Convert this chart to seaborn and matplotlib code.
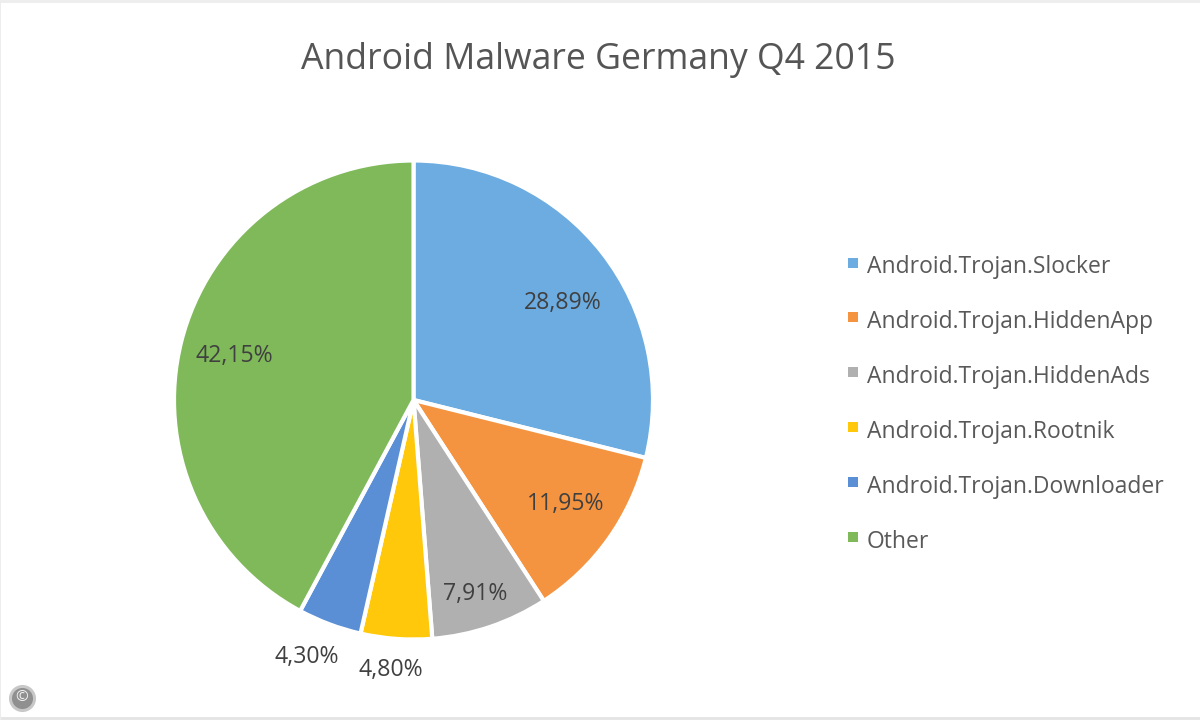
import matplotlib
matplotlib.use("Agg")
import matplotlib.pyplot as plt
import seaborn as sns
from matplotlib.patches import Rectangle

categories = ["Android.Trojan.Slocker", "Android.Trojan.HiddenApp", "Android.Trojan.HiddenAds",
              "Android.Trojan.Rootnik", "Android.Trojan.Downloader", "Other"]
values = [28.89, 11.95, 7.91, 4.80, 4.30, 42.15]
labels = ["28,89%", "11,95%", "7,91%", "4,80%", "4,30%", "42,15%"]
colors = ["#6CACE0", "#F59440", "#B0B0B0", "#FFC80A", "#5A8FD6", "#7FB95A"]
title = "Android Malware Germany Q4 2015"

sns.set_theme(style="white")
plt.rcParams['font.family'] = ['Open Sans', 'DejaVu Sans']

R = 239.5
cx, cy = 413.5, 400

fig = plt.figure(figsize=(12, 7.2), dpi=100, facecolor="white")
pie_ax = fig.add_axes([(cx - R) / 1200, 1 - (cy + R) / 720, 2 * R / 1200, 2 * R / 720])
pie_ax.pie(values, colors=colors, startangle=90, counterclock=False, radius=1,
           wedgeprops=dict(edgecolor="white", linewidth=3))
pie_ax.set_xlim(-1, 1)
pie_ax.set_ylim(-1, 1)

ov = fig.add_axes([0, 0, 1, 1], facecolor="none")
ov.set_xlim(0, 1200)
ov.set_ylim(720, 0)
ov.axis("off")
ov.text(598, 60, title, ha="center", va="center", fontsize=25.7, color="#555555")
label_pos = [(563, 303), (566, 504), (475, 594), (391, 670), (307, 657), (234, 356)]
for s, (x, y) in zip(labels, label_pos):
    ov.text(x, y, s, ha="center", va="center", fontsize=16.6, color="#404040")
leg_y = [267, 322, 377, 432, 487, 542]
box_y = [263, 317, 372, 427, 482, 537]
for c, s, y, b in zip(colors, categories, leg_y, box_y):
    ov.add_patch(Rectangle((848, b - 5), 10, 10, color=c, lw=0))
    ov.text(867, y, s, ha="left", va="center", fontsize=16.5, color="#595959")
# page edge lines and copyright badge
ov.plot([0, 1200], [1, 1], color="#EDEDED", lw=2)
ov.plot([0, 1200], [718, 718], color="#E4E4E4", lw=2)
ov.plot([0, 0], [0, 720], color="#EDEDED", lw=1.5)
ov.scatter([22], [698], s=380, color="#C8C8C8", zorder=3, lw=0)
ov.scatter([22], [698], s=230, color="#909090", zorder=3, lw=0)
ov.text(22, 697.5, "©", ha="center", va="center", fontsize=11, color="#F2F2F2", zorder=4)
fig.savefig("out.png", dpi=100)
